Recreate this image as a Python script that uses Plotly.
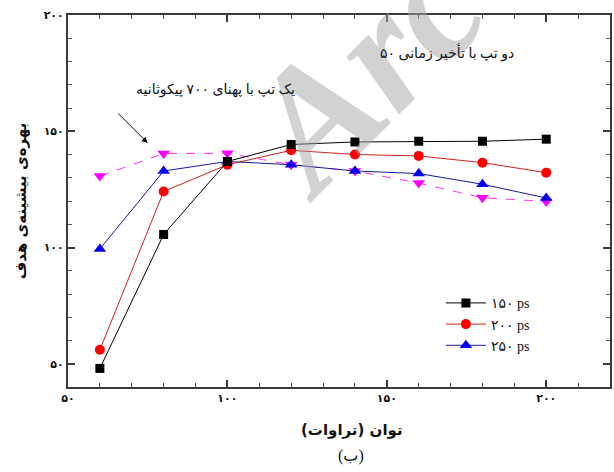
import plotly.graph_objects as go

# Power (TW) sample points
power = [60, 80, 100, 120, 140, 160, 180, 200]

# Peak target gain for two pulses with delays of 150/200/250 ps
gain_150ps = [48, 105.6, 137, 144.3, 145.4, 145.7, 145.7, 146.6]
gain_200ps = [56, 124.1, 135.6, 141.8, 140, 139.4, 136.5, 132.2]
gain_250ps = [99.4, 132.9, 137, 135.6, 132.9, 131.8, 127.2, 121.3]
# Single 700 ps pulse
gain_single = [130.7, 140.4, 140.5, 135.6, 132.9, 127.7, 121.4, 119.8]

series_names = ["۱۵۰ ps", "۲۰۰ ps", "۲۵۰ ps"]

x_ticks = [50, 100, 150, 200]
x_ticktext = ["۵۰", "۱۰۰", "۱۵۰", "۲۰۰"]
y_ticks = [50, 100, 150, 200]
y_ticktext = ["۵۰", "۱۰۰", "۱۵۰", "۲۰۰"]

fa_font = "DejaVu Sans"
serif_font = "Liberation Serif, DejaVu Serif, DejaVu Sans"

fig = go.Figure()

fig.add_trace(go.Scatter(
    x=power, y=gain_single, mode="lines+markers", showlegend=False,
    line=dict(color="#ff33ff", width=1, dash="dash"),
    marker=dict(symbol="triangle-down", size=11, color="#ff00ff"),
))
fig.add_trace(go.Scatter(
    x=power, y=gain_250ps, mode="lines+markers", name=series_names[2],
    line=dict(color="#1a1a9a", width=1),
    marker=dict(symbol="triangle-up", size=11, color="#0000ee"),
))
fig.add_trace(go.Scatter(
    x=power, y=gain_200ps, mode="lines+markers", name=series_names[1],
    line=dict(color="#cc2222", width=1),
    marker=dict(symbol="circle", size=10, color="#ff0000"),
))
fig.add_trace(go.Scatter(
    x=power, y=gain_150ps, mode="lines+markers", name=series_names[0],
    line=dict(color="#000000", width=1),
    marker=dict(symbol="square", size=9, color="#000000"),
))

axis_common = dict(
    showline=True, linecolor="#3a3a3a", linewidth=2, mirror="ticks",
    ticks="inside", ticklen=7, tickwidth=1.5, tickcolor="#3a3a3a",
    showgrid=False, zeroline=False,
    tickfont=dict(family=fa_font, size=11, color="#111111", weight="bold"),
    minor=dict(ticks="inside", ticklen=4, tickwidth=1, tickcolor="#555555", dtick=10),
)

fig.update_xaxes(range=[50, 220], tickvals=x_ticks, ticktext=x_ticktext, **axis_common)
fig.update_yaxes(range=[40, 200], tickvals=y_ticks, ticktext=y_ticktext, **axis_common)


def px(x):
    return (x - 68) / 544


def py(y):
    return (387 - y) / 372


def label(text, x, y, font, **kw):
    return dict(text=text, x=px(x), y=py(y), xref="paper", yref="paper",
                xanchor="center", yanchor="middle", showarrow=False, font=font, **kw)


fig.update_layout(
    width=614, height=472,
    margin=dict(l=68, r=2, t=15, b=85),
    paper_bgcolor="white", plot_bgcolor="white",
    legend=dict(
        x=0.688, y=0.268, xanchor="left", yanchor="top",
        traceorder="reversed", bgcolor="rgba(255,255,255,0)",
        font=dict(family=serif_font, size=14, color="#111111"),
        itemwidth=40, tracegroupgap=0,
    ),
    annotations=[
        # faint diagonal watermark lettering (drawn first so labels sit on top)
        label("<b><i>Arc</i></b>", 364, 70,
              dict(family="Liberation Serif", size=170, color="rgba(165,165,165,0.5)"),
              textangle=-45),
        label("دو تپ با تأخیر زمانی ۵۰", 448, 52,
              dict(family=serif_font, size=14, color="#111111")),
        label("یک تپ با پهنای ۷۰۰ پیکوثانیه", 216, 90,
              dict(family=serif_font, size=14, color="#111111")),
        dict(text="", x=px(148), y=py(143), xref="paper", yref="paper",
             ax=-31, ay=-31, axref="pixel", ayref="pixel",
             showarrow=True, arrowhead=2, arrowsize=1.2, arrowwidth=1, arrowcolor="#111111"),
        label("بهره‌ی بیشینه‌ی هدف", 21, 201,
              dict(family=fa_font, size=15, color="#111111", weight="bold"), textangle=-90),
        label("توان (تراوات)", 353, 430,
              dict(family=fa_font, size=15, color="#111111", weight="bold")),
        label("(ب)", 352, 456, dict(family=serif_font, size=16, color="#111111")),
    ],
)

fig.write_html("out.html")
